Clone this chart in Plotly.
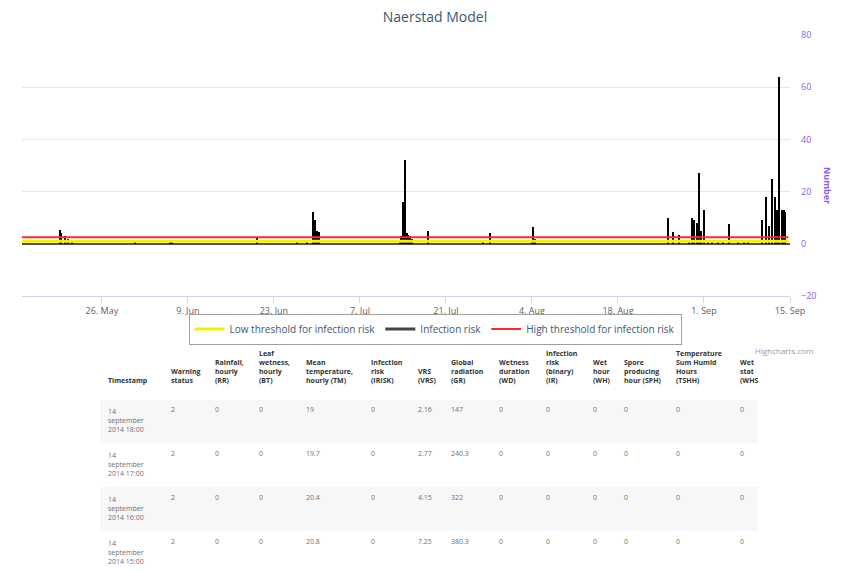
import plotly.graph_objects as go

# infection risk (hourly bars)
risk_times = [
    "2014-05-19 04:00", "2014-05-19 08:00", "2014-05-20 00:00", "2014-05-20 12:00", "2014-05-21 03:00",
    "2014-05-31 10:00", "2014-06-06 02:00", "2014-06-06 10:00", "2014-06-20 06:00", "2014-06-26 19:00",
    "2014-06-28 10:00", "2014-06-29 09:00", "2014-06-29 15:00", "2014-06-30 00:00", "2014-06-30 08:00",
    "2014-07-13 12:00", "2014-07-13 18:00", "2014-07-13 23:00", "2014-07-14 08:00", "2014-07-14 14:00",
    "2014-07-14 20:00", "2014-07-15 04:00", "2014-07-15 10:00", "2014-07-18 02:00", "2014-07-27 01:00",
    "2014-07-28 05:00", "2014-08-04 00:00", "2014-08-04 05:00", "2014-08-04 10:00", "2014-08-26 04:00",
    "2014-08-27 00:00", "2014-08-27 23:00", "2014-08-29 14:00", "2014-08-30 02:00", "2014-08-30 10:00",
    "2014-08-30 21:00", "2014-08-31 05:00", "2014-08-31 12:00", "2014-09-01 00:00", "2014-09-01 16:00",
    "2014-09-02 08:00", "2014-09-03 07:00", "2014-09-04 03:00", "2014-09-05 02:00", "2014-09-06 13:00",
    "2014-09-07 12:00", "2014-09-08 05:00", "2014-09-10 12:00", "2014-09-11 03:00", "2014-09-11 14:00",
    "2014-09-12 02:00", "2014-09-12 14:00", "2014-09-12 22:00", "2014-09-13 05:00", "2014-09-13 17:00",
    "2014-09-14 00:00", "2014-09-14 06:00",
]
risk_values = [
    5.4, 4, 3, 2, 1,
    0.4, 1.5, 0.8, 2.5, 0.4,
    0.4, 12, 9, 5, 4.5,
    1, 3, 16, 32, 4,
    3.5, 3, 2, 5, 1.5,
    4, 1, 6.5, 2, 10,
    4.5, 3.5, 1, 10, 9,
    8, 27, 5, 13, 1.5,
    0.7, 1, 1.5, 7.4, 1.2,
    1.5, 1.5, 9, 18, 7,
    25, 18, 13, 64, 13,
    13, 12,
]

threshold_times = ["2014-05-13 00:00", "2014-09-14 18:00"]
low_threshold = [1, 1]
high_threshold = [2.5, 2.5]

# table below the chart
table_header = [
    "&nbsp;<br>&nbsp;<br>&nbsp;<br>Timestamp",
    "&nbsp;<br>&nbsp;<br>Warning<br>status",
    "&nbsp;<br>Rainfall,<br>hourly<br>(RR)",
    "Leaf<br>wetness,<br>hourly<br>(BT)",
    "&nbsp;<br>Mean<br>temperature,<br>hourly (TM)",
    "&nbsp;<br>Infection<br>risk<br>(IRISK)",
    "&nbsp;<br>&nbsp;<br>VRS<br>(VRS)",
    "&nbsp;<br>Global<br>radiation<br>(GR)",
    "&nbsp;<br>Wetness<br>duration<br>(WD)",
    "Infection<br>risk<br>(binary)<br>(IR)",
    "&nbsp;<br>Wet<br>hour<br>(WH)",
    "&nbsp;<br>Spore<br>producing<br>hour (SPH)",
    "Temperature<br>Sum Humid<br>Hours<br>(TSHH)",
    "&nbsp;<br>Wet<br>stat<br>(WHS)",
]
timestamps = ["14<br>september<br>2014 18:00", "14<br>september<br>2014 17:00",
              "14<br>september<br>2014 16:00", "14<br>september<br>2014 15:00"]
warning_status = [2, 2, 2, 2]
rainfall = [0, 0, 0, 0]
leaf_wetness = [0, 0, 0, 0]
mean_temp = [19, 19.7, 20.4, 20.8]
infection_risk = [0, 0, 0, 0]
vrs = [2.16, 2.77, 4.15, 7.25]
global_radiation = [147, 240.3, 322, 380.3]
wetness_duration = [0, 0, 0, 0]
infection_binary = [0, 0, 0, 0]
wet_hour = [0, 0, 0, 0]
spore_hour = [0, 0, 0, 0]
temp_sum = [0, 0, 0, 0]
wet_stat = [0, 0, 0, 0]

W, H = 852, 573
OFF = 8  # page body margin


def px(x):
    return (x - OFF) / W


def py(y):
    return 1 - (y - OFF) / H


purple = "#8a5cf5"
row_fill = ["#f7f7f7", "white", "#f7f7f7", "white"]

fig = go.Figure()

fig.add_trace(go.Scatter(
    x=threshold_times, y=low_threshold, mode="lines", name="Low threshold for infection risk",
    line=dict(color="#f2f200", width=3), legendrank=1, hoverinfo="skip"))

fig.add_trace(go.Bar(
    x=risk_times, y=risk_values, name="Infection risk", width=8 * 3600 * 1000,
    marker=dict(color="black", line=dict(width=0)), showlegend=False))

# legend entry drawn as a line, like the original
fig.add_trace(go.Scatter(
    x=[None], y=[None], mode="lines", name="Infection risk",
    line=dict(color="#444444", width=3), legendrank=2))

fig.add_trace(go.Scatter(
    x=threshold_times, y=high_threshold, mode="lines", name="High threshold for infection risk",
    line=dict(color="#ff2a2a", width=2), legendrank=3, hoverinfo="skip"))

fig.add_trace(go.Table(
    domain=dict(x=[px(100), px(757)], y=[0, py(341)]),
    columnwidth=[63, 44, 44, 47, 65, 47, 33, 48, 47, 47, 31, 52, 64, 25],
    header=dict(
        values=["<b>%s</b>" % h for h in table_header],
        fill_color="white", line_color="white", align="left", height=58,
        font=dict(size=7, color="#333333", family="Open Sans")),
    cells=dict(
        values=[timestamps, warning_status, rainfall, leaf_wetness, mean_temp, infection_risk, vrs,
                global_radiation, wetness_duration, infection_binary, wet_hour, spore_hour, temp_sum,
                wet_stat],
        fill_color=[row_fill],
        line_color=[row_fill], align="left", height=44,
        font=dict(size=7, color="#707070", family="Open Sans")),
))

fig.update_layout(
    width=W, height=H,
    margin=dict(l=0, r=0, t=0, b=0, autoexpand=False),
    paper_bgcolor="white", plot_bgcolor="white",
    font=dict(family="Open Sans", color="#333333"),
    title=dict(text="Naerstad Model", x=px(435), xanchor="center", y=py(17), yanchor="middle",
               font=dict(size=14, color="#3e576f")),
    bargap=0,
    legend=dict(orientation="h", x=px(435), xanchor="center", y=py(329), yanchor="middle",
                bordercolor="#a0a0a0", borderwidth=1, bgcolor="white",
                font=dict(size=10, color="#3e576f"), itemwidth=30, tracegroupgap=0),
    xaxis=dict(
        domain=[px(22), px(790)], type="date",
        range=["2014-05-13 00:00", "2014-09-15 00:00"],
        tick0="2014-05-26", dtick=14 * 86400000, tickformat="%-d. %b",
        showgrid=False, showline=True, linecolor="#ccd6eb", linewidth=1,
        ticks="outside", ticklen=6, tickcolor="#ccd6eb",
        tickfont=dict(size=9, color="#606060"), fixedrange=True),
    yaxis=dict(
        domain=[py(296), py(35)], side="right",
        range=[-20, 80], dtick=20, showgrid=True, gridcolor="#e6e6e6",
        zeroline=True, zerolinecolor="#555555", zerolinewidth=2,
        tickfont=dict(size=9, color=purple), ticklabelstandoff=10),
    annotations=[
        dict(text="<b>Number</b>", x=px(836), y=py(165), xref="paper", yref="paper",
             textangle=90, showarrow=False, font=dict(size=9, color=purple)),
        dict(text="Highcharts.com", x=px(815), y=py(350), xref="paper", yref="paper",
             showarrow=False, font=dict(size=8, color="#999999")),
    ],
    shapes=[
        dict(type="rect", xref="paper", yref="paper", x0=px(748), x1=px(757), y0=0, y1=py(341),
             fillcolor="#f0f0f0", line=dict(width=0), layer="below"),
    ],
)

fig.write_html("out.html")
